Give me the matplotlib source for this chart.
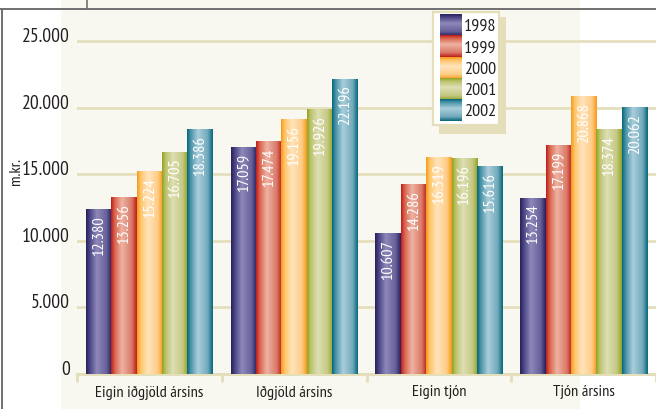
import matplotlib
matplotlib.use("Agg")
import numpy as np
import matplotlib.pyplot as plt
from matplotlib.colors import LinearSegmentedColormap
from matplotlib.patches import Rectangle
from matplotlib.lines import Line2D

plt.rcParams['font.family'] = ['PT Sans Narrow', 'DejaVu Sans']

# ---- data (m.kr.) ----
categories = ["Eigin iðgjöld ársins", "Iðgjöld ársins", "Eigin tjón", "Tjón ársins"]
years = ["1998", "1999", "2000", "2001", "2002"]
v1998 = [12380, 17059, 10607, 13254]
v1999 = [13256, 17474, 14286, 17199]
v2000 = [15224, 19156, 16319, 20868]
v2001 = [16705, 19926, 16196, 18374]
v2002 = [18386, 22196, 15616, 20062]
series = [v1998, v1999, v2000, v2001, v2002]
yticks = [0, 5000, 10000, 15000, 20000, 25000]

# cylinder-like shading: edge, shoulder, highlight, back shoulder, edge
shades = [
    ["#26205a", "#4a4484", "#8e89b9", "#66609a", "#26205a"],
    ["#be1c1a", "#d8644c", "#eeb3a3", "#da7a68", "#be1c1a"],
    ["#f39a18", "#ffc468", "#ffe4bc", "#ffcd88", "#f39a18"],
    ["#93a322", "#bbc36c", "#dedfb4", "#c4c882", "#93a322"],
    ["#05667c", "#4893a7", "#aacedb", "#73aabb", "#05667c"],
]
stops = [0.0, 0.14, 0.42, 0.8, 1.0]
cmaps = [LinearSegmentedColormap.from_list(f"c{i}", list(zip(stops, s)))
         for i, s in enumerate(shades)]

CREAM_BG = "#f9f8f0"
GRID = "#e4deba"
TEXT = "#231f20"

W, H = 656, 410
fig = plt.figure(figsize=(W / 100, H / 100), dpi=100)
fig.patch.set_facecolor("white")

def fx(px):
    return px / W

def fy(py):
    return 1 - py / H

# page panel and frame
fig.add_artist(Rectangle((fx(61), 0), fx(580) - fx(61), 1, transform=fig.transFigure,
                         facecolor=CREAM_BG, edgecolor="none", zorder=0))
fig.add_artist(Line2D([0, 1], [fy(10), fy(10)], transform=fig.transFigure,
                      color="#707070", lw=1.4, zorder=1))
fig.add_artist(Line2D([fx(2.3), fx(2.3)], [fy(10), 0], transform=fig.transFigure,
                      color="#707070", lw=1.4, zorder=1))
fig.add_artist(Line2D([fx(86.5), fx(86.5)], [1, fy(10)], transform=fig.transFigure,
                      color="#707070", lw=1.2, zorder=1))

# ---- main axes ----
zero_px = 35.2           # baseline height above bottom (px)
top_px = 400.0
px_per_5000 = 66.5
cat_w = 146.0
ax = fig.add_axes([fx(77), zero_px / H, fx(656) - fx(77), (top_px - zero_px) / H])
ax.patch.set_visible(False)
for s in ax.spines.values():
    s.set_visible(False)

ymax = (top_px - zero_px) / px_per_5000 * 5000
xmin, xmax = -0.5, -0.5 + (656 - 77) / cat_w

for v in yticks[1:]:
    ax.axhline(v, color=GRID, lw=1.9, zorder=1)
ax.axhline(0, color=GRID, lw=2.2, zorder=1, clip_on=False)

bw = 25.6 / cat_w
idx = np.arange(len(categories))
for i, (yr, vals) in enumerate(zip(years, series)):
    xs = idx + (i - 2) * bw
    bars = ax.bar(xs, vals, width=bw, color=shades[i][0], linewidth=0, zorder=2)
    grad = np.linspace(0, 1, 128).reshape(1, -1)
    for patch, v in zip(bars.patches, vals):
        x0 = patch.get_x()
        img = ax.imshow(grad, cmap=cmaps[i], aspect="auto", interpolation="bilinear",
                        extent=[x0, x0 + patch.get_width(), 0, patch.get_height()],
                        zorder=3)
        img.set_clip_path(patch)
        ax.annotate(f"{v:,}".replace(",", "."), (x0 + patch.get_width() / 2, v),
                    xytext=(0.3, -4.3), textcoords="offset points",
                    rotation=90, ha="center", va="top", color="white",
                    fontsize=11.8, zorder=4)

ax.set_xlim(xmin, xmax)
ax.set_ylim(0, ymax)

ax.set_yticks(yticks)
ax.set_yticklabels(["0"] + [f"{v:,}".replace(",", ".") for v in yticks[1:]],
                   fontsize=14, color=TEXT)
for lbl in ax.get_yticklabels():
    lbl.set_va("baseline")
ax.tick_params(axis="y", length=0, pad=5)

ax.set_xticks(idx)
ax.set_xticklabels(categories, fontsize=11.8, color=TEXT)
ax.set_xticks(np.arange(-0.5, 3.6, 1.0), minor=True)
ax.tick_params(axis="x", which="major", length=0, pad=7.5)
ax.tick_params(axis="x", which="minor", length=6, width=2, color=GRID, direction="out")

fig.text(fx(16), fy(172), "m.kr.", rotation=90, ha="center", va="center",
         fontsize=11.5, color=TEXT)

# ---- legend ----
lax = fig.add_axes([fx(432), fy(127), fx(500) - fx(432), (127 - 12) / H])
lax.set_xlim(432, 500)
lax.set_ylim(127, 12)
lax.axis("off")
lax.add_patch(Rectangle((439, 18), 67, 117, facecolor=GRID, edgecolor="none",
                        clip_on=False, zorder=0))
lax.add_patch(Rectangle((433, 13), 66, 113, facecolor="white", edgecolor=GRID,
                        lw=1.6, clip_on=False, zorder=1))
sw_h = 21.2
vgrad = np.linspace(0, 1, 64).reshape(-1, 1)
for k, yr in enumerate(years):
    top = 16 + sw_h * k
    lax.imshow(vgrad, cmap=cmaps[k], aspect="auto", interpolation="bilinear",
               extent=[440, 462, top + sw_h, top], zorder=2)
    lax.text(464, top + sw_h / 2 + 0.5, yr, ha="left", va="center",
             fontsize=13, color=TEXT, zorder=3)
lax.set_xlim(432, 500)
lax.set_ylim(127, 12)

fig.savefig("out.png", dpi=100, facecolor=fig.get_facecolor())
